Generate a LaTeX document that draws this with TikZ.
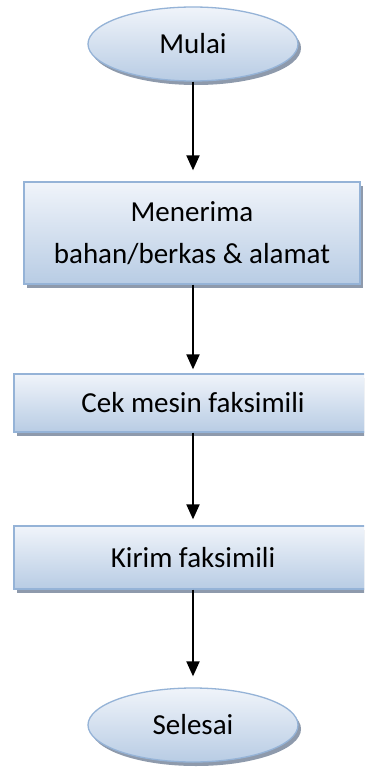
\documentclass[tikz,border=0pt]{standalone}
\usepackage{fontspec}
\setmainfont{Carlito}
\usetikzlibrary{shapes.geometric,shadows,arrows.meta}
\definecolor{bordr}{RGB}{149,179,215}
\definecolor{topc}{RGB}{240,244,250}
\definecolor{botc}{RGB}{184,204,228}
\definecolor{shad}{RGB}{142,154,172}
\tikzset{
  fc/.style={draw=bordr, line width=1.3pt, top color=topc, bottom color=botc,
    drop shadow={shadow xshift=3pt, shadow yshift=-4pt, fill=shad, opacity=1},
    font=\fontsize{29}{42}\selectfont, align=center, inner sep=0pt, text=black},
  term/.style={fc, ellipse, minimum width=210pt, minimum height=74pt},
  proc/.style={fc, rectangle},
  arr/.style={-{Triangle[length=15pt,width=13pt]}, line width=2pt, black}
}
\begin{document}
\begin{tikzpicture}[x=1pt,y=-1pt]
\clip (0,0) rectangle (364,768);
\useasboundingbox (0,0) rectangle (364,768);
\fill[white] (0,0) rectangle (364,768);
\node[term] (mulai) at (193,44) {Mulai};
\node[proc, minimum width=336pt, minimum height=102pt] (b1) at (192,233) {Menerima\\bahan/berkas \& alamat};
\node[proc, minimum width=358pt, minimum height=58pt] (b2) at (193,403) {Cek mesin faksimili};
\node[proc, minimum width=358pt, minimum height=63pt] (b3) at (193,557.5) {Kirim faksimili};
\node[term] (selesai) at (193,725) {Selesai};
\draw[arr, shorten >=11pt] (mulai.south) -- (mulai.south |- b1.north);
\draw[arr, shorten >=4pt] (b1.south -| b2.north) -- (b2.north);
\draw[arr, shorten >=6pt] (b2.south) -- (b3.north);
\draw[arr, shorten >=11pt] (b3.south) -- (selesai.north);
\end{tikzpicture}
\end{document}
